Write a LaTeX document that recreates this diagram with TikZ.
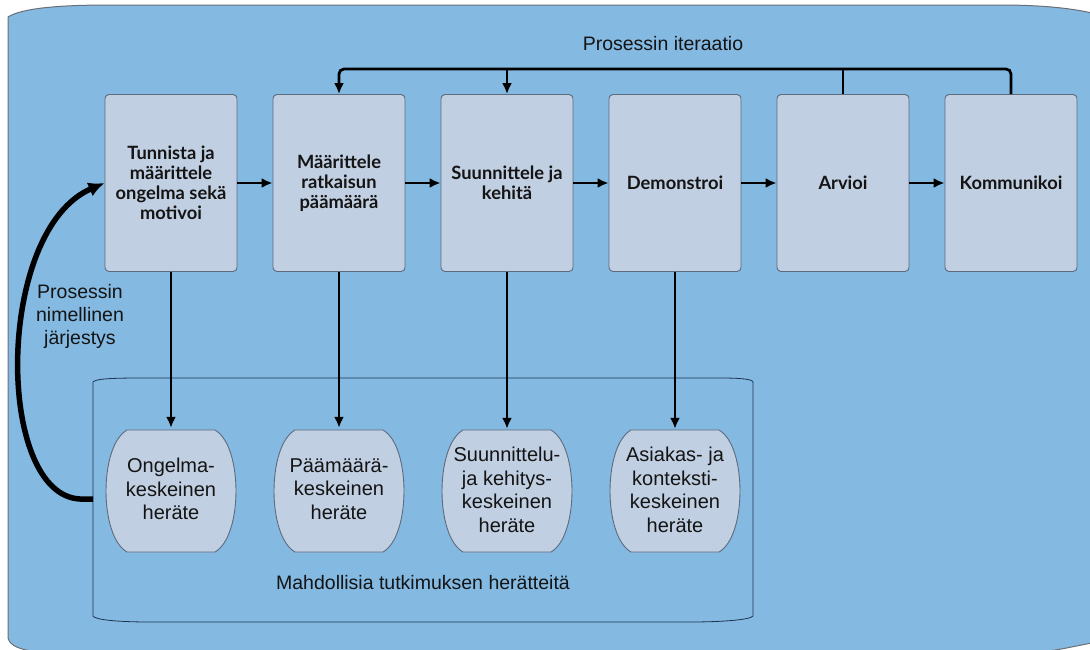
\documentclass[tikz,border=0pt]{standalone}
\usepackage{fontspec}
\setmainfont{Liberation Sans}
\newfontfamily\lato{Lato}
\usetikzlibrary{arrows.meta,calc}
\definecolor{bgblue}{HTML}{84B9E2}
\definecolor{boxfill}{HTML}{C1CFE2}
\definecolor{boxline}{HTML}{5E6B7C}
\definecolor{frameline}{HTML}{6A6F78}
\definecolor{innerline}{HTML}{1E3250}
\definecolor{textc}{HTML}{141414}
\begin{document}
\begin{tikzpicture}[x=1pt,y=-1pt,
  stepbox/.style={draw=boxline, fill=boxfill, rounded corners=4pt, line width=0.9pt,
    minimum width=132pt, minimum height=177pt, inner sep=0pt, align=center,
    text=textc, font=\lato\bfseries\fontsize{18.3}{20}\selectfont},
  trigger/.style={minimum width=132pt, minimum height=122pt, inner sep=0pt, align=center,
    text=textc, font=\fontsize{20}{23.5}\selectfont},
  barrelline/.style={draw=boxline, fill=boxfill, line width=0.9pt},
  label/.style={text=textc, align=center, font=\fontsize{19.5}{23}\selectfont},
  conn/.style={draw=black, line width=2.8pt, -{Latex[length=11pt,width=10pt]}},
  plainconn/.style={draw=black, line width=2.8pt},
  thickconn/.style={draw=black, line width=5.5pt, -{Latex[length=16pt,width=15pt]}}
]
\useasboundingbox (0,0) rectangle (1090,649);
% outer frame
\path[fill=bgblue, draw=frameline, line width=1pt]
  (8,17) .. controls (22,8) and (60,5) .. (110,5) -- (1000,5)
  .. controls (1040,5) and (1070,8) .. (1092,13) -- (1092,643)
  .. controls (1075,646) and (1060,650) .. (1040,652) -- (40,652)
  .. controls (20,650) and (10,646) .. (8,638) -- cycle;
% inner frame
\path[draw=innerline, line width=0.8pt]
  (93,382) .. controls (95,379) and (110,378) .. (140,378) -- (720,378)
  .. controls (740,378) and (752,379) .. (753,382) -- (753,616)
  .. controls (750,620) and (720,622) .. (690,622) -- (150,622)
  .. controls (120,622) and (95,620) .. (93,616) -- cycle;
\node[label] (lowlab) at (423,583) {Mahdollisia tutkimuksen herätteitä};
% top boxes
\node[stepbox] (b1) at (171,183) {Tunnista ja\\määrittele\\ongelma sekä\\motivoi};
\node[stepbox] (b2) at (339,183) {Määrittele\\ratkaisun\\päämäärä};
\node[stepbox] (b3) at (507,183) {Suunnittele ja\\kehitä};
\node[stepbox] (b4) at (675,183) {Demonstroi};
\node[stepbox] (b5) at (843,183) {Arvioi};
\node[stepbox] (b6) at (1011,183) {Kommunikoi};
% barrels
\foreach \cx in {171,339,507,675}{
  \path[barrelline] (\cx-44,430) -- (\cx+44,430)
    .. controls (\cx+72,446) and (\cx+72,536) .. (\cx+44,552) -- (\cx-44,552)
    .. controls (\cx-72,536) and (\cx-72,446) .. (\cx-44,430) -- cycle;
}
\node[trigger] (t1) at (171,489) {Ongelma-\\keskeinen\\heräte};
\node[trigger] (t2) at (339,489) {Päämäärä-\\keskeinen\\heräte};
\node[trigger] (t3) at (507,490) {Suunnittelu-\\ja kehitys-\\keskeinen\\heräte};
\node[trigger] (t4) at (675,490) {Asiakas- ja\\konteksti-\\keskeinen\\heräte};
% horizontal arrows
\draw[conn] (b1) -- (b2);
\draw[conn] (b2) -- (b3);
\draw[conn] (b3) -- (b4);
\draw[conn] (b4) -- (b5);
\draw[conn] (b5) -- (b6);
% vertical arrows
\draw[conn] (b1.south) -- (t1.north);
\draw[conn] (b2.south) -- (t2.north);
\draw[conn] (b3.south) -- (t3.north);
\draw[conn] (b4.south) -- (t4.north);
% iteration
\coordinate (itl) at (339,69);
\draw[conn, rounded corners=5pt] (b6.north) |- (itl) -- (b2.north);
\draw[conn] (b3.north |- itl) -- (b3.north);
\draw[plainconn] (b5.north) -- (b5.north |- itl);
\node[label] (itlab) at (663,44) {Prosessin iteraatio};
% nominal order
\coordinate (ostart) at (93,499);
\draw[thickconn] (ostart) -- (80,499) .. controls (-5,495) and (-5,230) .. (b1.west);
\node[label] (ordlab) at (80,316) {Prosessin\\nimellinen\\järjestys};
\end{tikzpicture}
\end{document}
